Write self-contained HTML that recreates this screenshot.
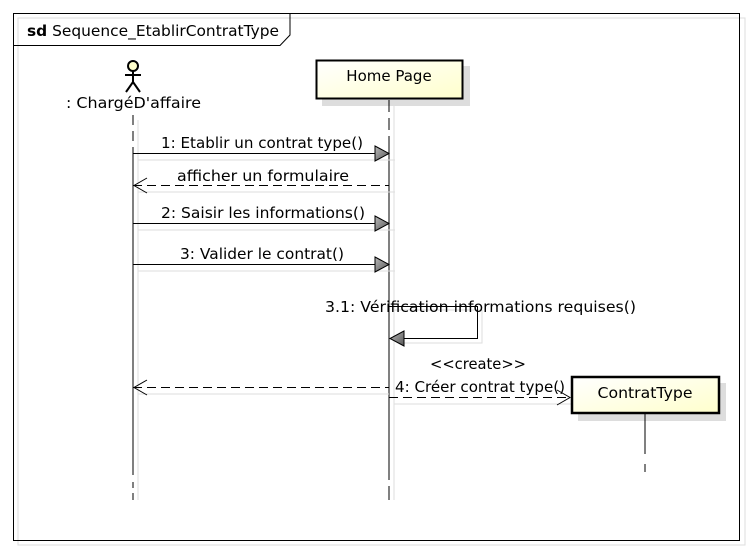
<!DOCTYPE html>
<html><head><meta charset="utf-8"><style>
body{margin:0;background:#fff;}
svg text{font-family:"DejaVu Sans","Liberation Sans",sans-serif;font-size:15px;fill:#000;}
</style></head><body>
<svg width="750" height="554" xmlns="http://www.w3.org/2000/svg">
<defs>
<linearGradient id="g" x1="0" y1="0" x2="1" y2="1"><stop offset="0" stop-color="#ffffff"/><stop offset="1" stop-color="#ffffcc"/></linearGradient>
<linearGradient id="ag" x1="0" y1="0" x2="1" y2="1"><stop offset="0" stop-color="#bbb"/><stop offset="1" stop-color="#555"/></linearGradient>
</defs>
<rect x="0" y="0" width="750" height="554" fill="#fff"/>
<rect x="18" y="18" width="727" height="527" fill="none" stroke="#ddd"/>
<rect x="13.5" y="13.5" width="726" height="527" fill="none" stroke="#000"/>
<path d="M13.5 45.5 H280 L290 35 V13.5" fill="none" stroke="#000"/>
<text x="27" y="36" textLength="252" lengthAdjust="spacingAndGlyphs"><tspan font-weight="bold">sd</tspan> Sequence_EtablirContratType</text>

<!-- actor -->
<circle cx="133" cy="66" r="5" fill="#ffffcc" stroke="#000" stroke-width="2"/>
<path d="M133 71 V82 M125 75 H141 M133 82 L126 92 M133 82 L140 92" stroke="#000" stroke-width="2" fill="none"/>
<text x="66" y="108" textLength="135" lengthAdjust="spacingAndGlyphs">: ChargéD'affaire</text>
<path d="M133 115 V125 M133 131 V141 M133 147 V475 M133 482 V488 M133 493 V500" stroke="#000"/>
<line x1="138" y1="120" x2="138" y2="500" stroke="#ddd"/>

<!-- Home Page -->
<rect x="322" y="66" width="148" height="40" fill="#ddd"/>
<rect x="316.5" y="60.5" width="146" height="38" fill="url(#g)" stroke="#000" stroke-width="2"/>
<text x="389" y="81" text-anchor="middle">Home Page</text>
<path d="M389 100 V112 M389 118 V130 M389 136 V480 M389 486 V500" stroke="#000"/>
<line x1="394" y1="106" x2="394" y2="500" stroke="#ddd"/>

<!-- 1 -->
<text x="262" y="148" text-anchor="middle" textLength="202" lengthAdjust="spacingAndGlyphs">1: Etablir un contrat type()</text>
<line x1="138" y1="160" x2="395" y2="160" stroke="#ddd"/>
<line x1="133" y1="153.5" x2="376" y2="153.5" stroke="#000"/>
<path d="M375 146 L389 153.5 L375 161 Z" fill="url(#ag)" stroke="#000"/>
<!-- return -->
<text x="263" y="181" text-anchor="middle" textLength="172" lengthAdjust="spacingAndGlyphs">afficher un formulaire</text>
<line x1="138" y1="192" x2="395" y2="192" stroke="#ddd"/>
<line x1="133" y1="185.5" x2="389" y2="185.5" stroke="#000" stroke-dasharray="9,5"/>
<path d="M147 178 L134 185.5 L147 193" fill="none" stroke="#000"/>
<!-- 2 -->
<text x="263" y="218" text-anchor="middle" textLength="204" lengthAdjust="spacingAndGlyphs">2: Saisir les informations()</text>
<line x1="138" y1="230" x2="395" y2="230" stroke="#ddd"/>
<line x1="133" y1="223.5" x2="376" y2="223.5" stroke="#000"/>
<path d="M375 216 L389 223.5 L375 231 Z" fill="url(#ag)" stroke="#000"/>
<!-- 3 -->
<text x="262" y="259" text-anchor="middle" textLength="164" lengthAdjust="spacingAndGlyphs">3: Valider le contrat()</text>
<line x1="138" y1="271" x2="395" y2="271" stroke="#ddd"/>
<line x1="133" y1="264.5" x2="376" y2="264.5" stroke="#000"/>
<path d="M375 257 L389 264.5 L375 272 Z" fill="url(#ag)" stroke="#000"/>
<!-- 3.1 -->
<path d="M394 310 H482 V343 H400" fill="none" stroke="#ddd"/>
<path d="M389 306.5 H477.5 V338.5 H403" fill="none" stroke="#000"/>
<path d="M404 331 L390 338.5 L404 346 Z" fill="url(#ag)" stroke="#000"/>
<text x="325" y="312" textLength="311" lengthAdjust="spacingAndGlyphs">3.1: Vérification informations requises()</text>
<!-- return 4 -->
<line x1="138" y1="394" x2="389" y2="394" stroke="#ddd"/>
<line x1="133" y1="387.5" x2="389" y2="387.5" stroke="#000" stroke-dasharray="9,5"/>
<path d="M147 380 L134 387.5 L147 395" fill="none" stroke="#000"/>
<!-- 4 create -->
<text x="478" y="369" text-anchor="middle" textLength="96" lengthAdjust="spacingAndGlyphs">&lt;&lt;create&gt;&gt;</text>
<text x="395" y="392" textLength="170" lengthAdjust="spacingAndGlyphs">4: Créer contrat type()</text>
<line x1="394" y1="404" x2="576" y2="404" stroke="#ddd"/>
<line x1="389" y1="397.5" x2="569" y2="397.5" stroke="#000" stroke-dasharray="9,5"/>
<path d="M557 390 L570 397.5 L557 405" fill="none" stroke="#000"/>
<!-- ContratType -->
<rect x="578" y="383" width="148" height="38" fill="#ddd"/>
<rect x="572" y="377" width="147" height="36" fill="url(#g)" stroke="#000" stroke-width="2.5"/>
<text x="645" y="398" text-anchor="middle" textLength="95" lengthAdjust="spacingAndGlyphs">ContratType</text>
<line x1="645" y1="414" x2="645" y2="472" stroke="#000" stroke-dasharray="40,10,8,10"/>
</svg>
</body></html>
